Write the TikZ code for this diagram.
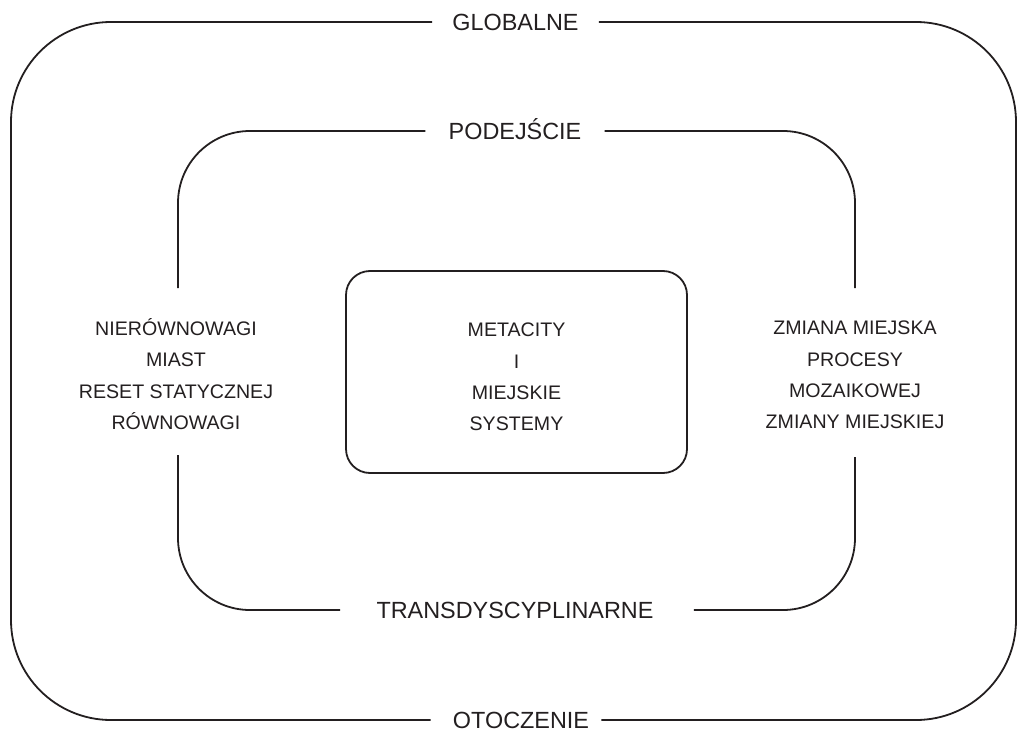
\documentclass[tikz,border=0pt]{standalone}
\usepackage{fontspec}
\setmainfont{Liberation Sans}
\definecolor{ink}{HTML}{231F20}
\begin{document}
\begin{tikzpicture}[x=0.5pt,y=-0.5pt,
  frame/.style={draw=ink,line width=0.9pt},
  lbl/.style={text=ink,font=\fontsize{11.7}{15.5}\selectfont,inner sep=0pt,text height=8.4pt,text depth=0pt},
  para/.style={text=ink,font=\fontsize{9.8}{15.6}\selectfont,align=center,inner sep=0pt}]
\useasboundingbox (0,0) rectangle (1017,733);

% labels on the frames
\node[lbl] (glob) at (515.5,22) {GLOBALNE};
\node[lbl] (oto) at (521,720) {OTOCZENIE};
\node[lbl] (pod) at (515,131) {PODEJŚCIE};
\node[lbl] (trans) at (515,610) {TRANSDYSCYPLINARNE};

% outer frame
\draw[frame, rounded corners=50pt] ([xshift=10pt]glob.east) -- (1016,22) -- (1016,720) -- ([xshift=6pt]oto.east);
\draw[frame, rounded corners=50pt] ([xshift=-10pt]glob.west) -- (11,22) -- (11,720) -- ([xshift=-11pt]oto.west);

% middle frame
\coordinate (lt) at (178,288);
\coordinate (lb) at (178,455);
\coordinate (rt) at (855,288);
\coordinate (rb) at (855,457);
\draw[frame, rounded corners=36pt] (lt) -- (178,131) -- ([xshift=-11.5pt]pod.west);
\draw[frame, rounded corners=36pt] ([xshift=11.5pt]pod.east) -- (855,131) -- (rt);
\draw[frame, rounded corners=36pt] (rb) -- (855,610) -- ([xshift=20pt]trans.east);
\draw[frame, rounded corners=36pt] ([xshift=-18pt]trans.west) -- (178,610) -- (lb);

% side texts
\node[para] (left) at (176,374) {NIERÓWNOWAGI\\MIAST\\RESET STATYCZNEJ\\RÓWNOWAGI};
\node[para] (right) at (855,375) {ZMIANA MIEJSKA\\PROCESY\\MOZAIKOWEJ\\ZMIANY MIEJSKIEJ};

% core box
\node[frame, rounded corners=12pt, minimum width=170.5pt, minimum height=101pt] (core) at (516.5,372) {};
\node[para] (coretext) at (516.5,377) {METACITY\\I\\MIEJSKIE\\SYSTEMY};
\end{tikzpicture}
\end{document}
